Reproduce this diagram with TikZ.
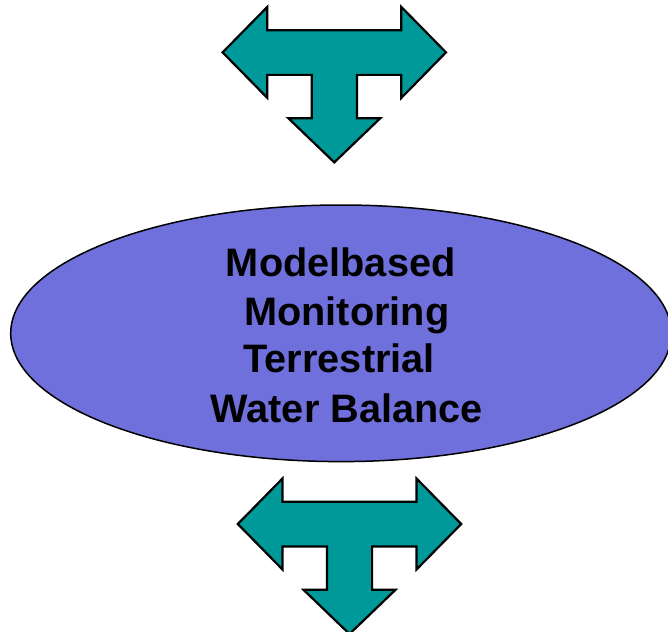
\documentclass[tikz,border=0pt]{standalone}
\usepackage{fontspec}
\setmainfont{Liberation Sans}
\usetikzlibrary{shapes.geometric}
\definecolor{arrowteal}{RGB}{0,153,153}
\definecolor{ovalblue}{RGB}{111,112,219}
\tikzset{
  x=1pt, y=-1pt,
  oval/.style={ellipse, draw=black, line width=1.5pt, fill=ovalblue, inner sep=0pt},
  label line/.style={anchor=base, inner sep=0pt, font=\fontsize{39.7}{39.7}\selectfont\bfseries},
  % three-headed arrow: left, right and down
  pics/tarrow/.style={code={
    \draw[fill=arrowteal, draw=black, line width=2.2pt, line join=miter]
      (-111.7,0) -- (-67,-45.5) -- (-67,-22.2) -- (67,-22.2) -- (67,-45.5)
      -- (111.7,0) -- (67,45.5) -- (67,22.5) -- (22.6,22.5) -- (22.6,65.8)
      -- (46,65.8) -- (0,110) -- (-46,65.8) -- (-22.6,65.8) -- (-22.6,22.5)
      -- (-67,22.5) -- (-67,45.5) -- cycle;
  }}
}
\begin{document}
\begin{tikzpicture}
  \useasboundingbox (0,0) rectangle (668,631);
  \begin{scope}
    \clip (0,0) rectangle (668,631);
    \pic (toparrow) at (334.3,52.4) {tarrow};
    \node[oval, minimum width=660.6pt, minimum height=256.6pt] (model) at (341,333.3) {};
    \pic (bottomarrow) at (349.5,524) {tarrow};
  \end{scope}
  \node[label line] (l1) at (340.7,276) {Modelbased};
  \node[label line] (l2) at (346.7,325) {Monitoring};
  \node[label line] (l3) at (339.2,372) {Terrestrial};
  \node[label line] (l4) at (346.7,422.3) {Water Balance};
\end{tikzpicture}
\end{document}
